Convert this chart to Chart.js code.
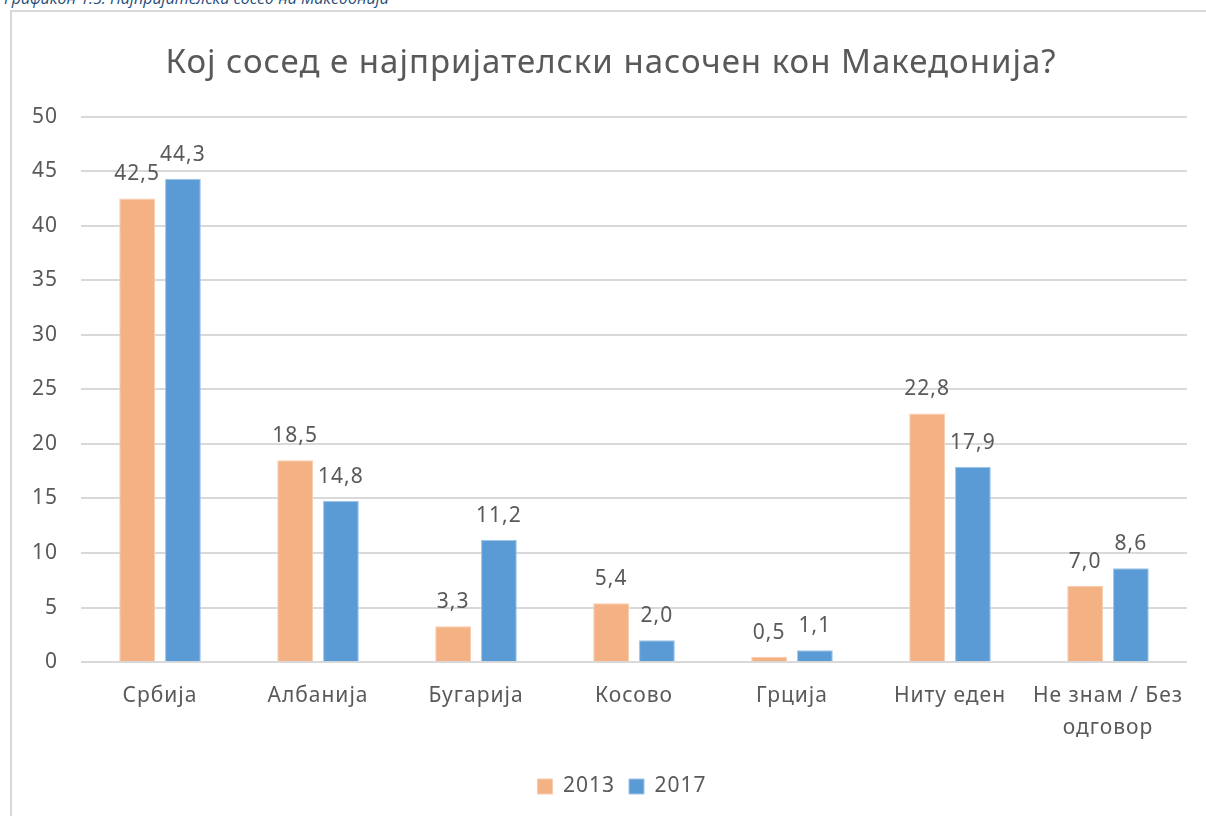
<!DOCTYPE html>
<html>
<head>
<meta charset="utf-8">
<script src="https://cdn.jsdelivr.net/npm/chart.js@4/dist/chart.umd.min.js"></script>
<style>
  html, body { margin: 0; padding: 0; background: #fff; overflow: hidden; }
  #wrap { position: relative; width: 1206px; height: 816px; }
  #caption { position: absolute; left: 4px; top: -13px; font-family: "Open Sans", sans-serif; font-style: italic; font-size: 16px; color: #1F4E79; white-space: nowrap; }
  #frame { position: absolute; left: 10px; top: 10px; width: 1210px; height: 820px; border: 2px solid #d9d9d9; box-sizing: border-box; }
  #cv { position: absolute; left: 0; top: 0; }
</style>
</head>
<body>
<div id="wrap">
  <div id="caption">Графикон 1.5: Најпријателски сосед на Македонија</div>
  <div id="frame"></div>
  <canvas id="cv" width="1206" height="816"></canvas>
</div>
<script>
const categories = ["Србија", "Албанија", "Бугарија", "Косово", "Грција", "Ниту еден", ["Не знам / Без", "одговор"]];
const values2013 = [42.5, 18.5, 3.3, 5.4, 0.5, 22.8, 7.0];
const values2017 = [44.3, 14.8, 11.2, 2.0, 1.1, 17.9, 8.6];
const seriesNames = ["2013", "2017"];
const yTicks = [0, 5, 10, 15, 20, 25, 30, 35, 40, 45, 50];

const FONT = "'Noto Sans', 'Open Sans', sans-serif";
const GRAY = "#595959";

const spacingPlugin = {
  id: 'spacing',
  beforeInit(chart) { chart.ctx.letterSpacing = '1px'; },
  beforeUpdate(chart) { chart.ctx.letterSpacing = '1px'; },
  beforeDraw(chart) {
    chart.ctx.letterSpacing = '1px';
    // the original frame extends past the right edge, so title and legend sit right of the canvas centre
    if (!chart.$shifted) {
      const t = chart.titleBlock, l = chart.legend;
      if (t) { t.left += 13; t.right += 13; }
      if (l) { l.left += 24; l.right += 24; }
      chart.$shifted = true;
    }
  }
};

const labelPlugin = {
  id: 'valueLabels',
  afterDatasetsDraw(chart) {
    const ctx = chart.ctx;
    ctx.save();
    ctx.font = "21px " + FONT;
    ctx.fillStyle = GRAY;
    ctx.textAlign = "center";
    ctx.textBaseline = "alphabetic";
    chart.data.datasets.forEach((ds, i) => {
      const meta = chart.getDatasetMeta(i);
      meta.data.forEach((bar, j) => {
        const v = ds.data[j];
        ctx.fillText(v.toFixed(1).replace('.', ','), bar.x, bar.y - 18);
      });
    });
    ctx.restore();
  }
};

new Chart(document.getElementById('cv'), {
  type: 'bar',
  data: {
    labels: categories,
    datasets: [
      { label: seriesNames[0], data: values2013, backgroundColor: "#F4B183", borderColor: "#F8CBAD", borderWidth: 1 },
      { label: seriesNames[1], data: values2017, backgroundColor: "#5B9BD5", borderColor: "#9DC3E6", borderWidth: 1 }
    ]
  },
  options: {
    responsive: false,
    animation: false,
    layout: { padding: { left: 9, right: 19, top: 30, bottom: 9 } },
    datasets: { bar: { categoryPercentage: 0.58, barPercentage: 0.78 } },
    plugins: {
      title: {
        display: true,
        text: "Кој сосед е најпријателски насочен кон Македонија?",
        color: GRAY,
        font: { family: FONT, size: 33, weight: 'normal', lineHeight: 1.2 },
        padding: { top: 14, bottom: 33 }
      },
      legend: {
        position: 'bottom',
        labels: {
          color: GRAY,
          font: { family: FONT, size: 21 },
          boxWidth: 15, boxHeight: 15,
          padding: 14
        }
      },
      tooltip: { enabled: false }
    },
    scales: {
      x: {
        grid: { display: false, drawTicks: false },
        border: { display: false },
        ticks: { color: GRAY, font: { family: FONT, size: 21, lineHeight: 1.52 }, padding: 18, maxRotation: 0, autoSkip: false }
      },
      y: {
        min: 0, max: 50,
        afterBuildTicks(axis) { axis.ticks = yTicks.map(v => ({ value: v })); },
        grid: { color: "#d9d9d9", lineWidth: 2, drawTicks: false },
        border: { display: false },
        ticks: { color: GRAY, font: { family: FONT, size: 21 }, padding: 23 }
      }
    }
  },
  plugins: [spacingPlugin, labelPlugin]
});
</script>
</body>
</html>
